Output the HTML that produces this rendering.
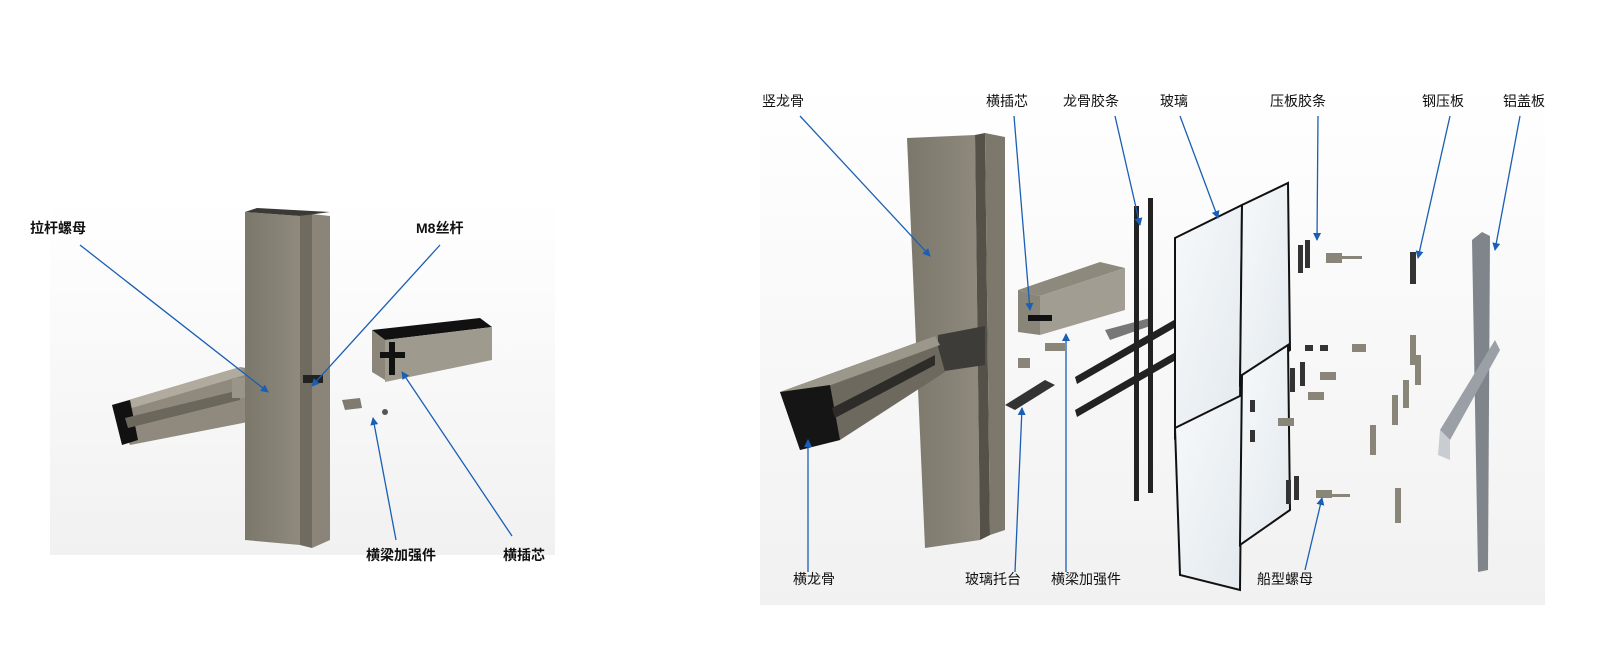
<!DOCTYPE html>
<html><head><meta charset="utf-8"><style>
html,body{margin:0;padding:0;background:#fff;}
svg{display:block}
text{font-family:"Liberation Sans","Noto Sans CJK SC",sans-serif;}
</style></head><body>
<svg width="1600" height="650" viewBox="0 0 1600 650" xmlns="http://www.w3.org/2000/svg">
<defs>
<linearGradient id="bg" x1="0" y1="0" x2="0" y2="1"><stop offset="0" stop-color="#fff"/><stop offset="1" stop-color="#f1f1f1"/></linearGradient>
<linearGradient id="mf" x1="0" y1="0" x2="1" y2="0"><stop offset="0" stop-color="#7b776b"/><stop offset="1" stop-color="#8f8a7d"/></linearGradient>
<linearGradient id="gl" x1="0" y1="0" x2="1" y2="1"><stop offset="0" stop-color="#f6f9fb"/><stop offset="1" stop-color="#e3e9ee"/></linearGradient>
<marker id="ar" markerWidth="8" markerHeight="8" refX="7" refY="4" orient="auto" markerUnits="userSpaceOnUse"><path d="M0,0 L8,4 L0,8 Z" fill="#1a5fb4"/></marker>
</defs>
<rect x="0" y="0" width="1600" height="650" fill="#fff"/>
<rect x="50" y="200" width="505" height="355" fill="url(#bg)"/>
<rect x="760" y="80" width="785" height="525" fill="url(#bg)"/>

<!-- LEFT: horizontal beam -->
<polygon points="112,405 240,367 258,370 258,420 130,445" fill="#8f8a7d"/>
<polygon points="112,405 240,367 245,375 118,412" fill="#b0ab9e"/>
<polygon points="112,405 130,400 138,440 122,445" fill="#111"/>
<polygon points="125,418 240,390 240,400 128,428" fill="#6b675c"/>
<rect x="232" y="378" width="40" height="20" fill="#9a9589"/>
<rect x="255" y="381" width="40" height="6" fill="#c9c5bb"/>
<!-- mullion -->
<polygon points="245,212 300,216 300,545 245,540" fill="url(#mf)"/>
<polygon points="300,216 312,214 312,548 300,545" fill="#6f6b60"/>
<polygon points="312,214 330,216 330,540 312,548" fill="#8a8578"/>
<polygon points="245,212 257,208 330,212 300,216" fill="#3b3934"/>
<rect x="303" y="375" width="20" height="8" fill="#222"/>
<!-- right block -->
<polygon points="372,330 480,318 492,327 385,340" fill="#111"/>
<polygon points="372,330 385,340 385,380 372,372" fill="#8b8679"/>
<polygon points="385,340 492,327 492,360 385,382" fill="#9f9a8e"/>
<path d="M380,355 L405,355 M392,342 L392,375" stroke="#111" stroke-width="6"/>
<polygon points="342,400 360,398 362,408 345,410" fill="#7f7b70"/>
<circle cx="385" cy="412" r="3" fill="#555"/>
<!-- left labels -->
<g font-size="14" font-weight="bold" fill="#111">
<text x="30" y="233">拉杆螺母</text>
<text x="416" y="233">M8丝杆</text>
<text x="366" y="560">横梁加强件</text>
<text x="503" y="560">横插芯</text>
</g>
<g stroke="#1a5fb4" stroke-width="1.3" marker-end="url(#ar)" fill="none">
<line x1="80" y1="245" x2="268" y2="392"/>
<line x1="440" y1="245" x2="312" y2="386"/>
<line x1="396" y1="540" x2="373" y2="418"/>
<line x1="512" y1="536" x2="402" y2="372"/>
</g>

<!-- RIGHT: mullion -->
<polygon points="907,138 975,135 980,540 925,548" fill="url(#mf)"/>
<polygon points="975,135 985,133 990,535 980,540" fill="#555148"/>
<polygon points="985,133 1005,137 1005,530 990,535" fill="#7d786c"/>
<!-- plate -->
<polygon points="938,335 985,326 985,365 938,372" fill="#3e3c38"/>
<!-- beam -->
<polygon points="780,392 935,336 945,372 840,440 800,450" fill="#6d695f"/>
<polygon points="780,392 935,336 940,345 790,400" fill="#9c978b"/>
<polygon points="780,392 830,385 840,440 800,450" fill="#151515"/>
<polygon points="832,408 935,355 935,365 835,418" fill="#2d2c29"/>
<!-- insert core -->
<polygon points="1018,290 1100,262 1125,268 1040,296" fill="#8e897d"/>
<polygon points="1018,290 1040,296 1040,335 1018,332" fill="#8a8579"/>
<polygon points="1040,296 1125,268 1125,310 1040,335" fill="#a29d92"/>
<path d="M1028,318 L1052,318" stroke="#111" stroke-width="6"/>
<rect x="1045" y="343" width="20" height="8" fill="#8a8579"/>
<rect x="1018" y="358" width="12" height="10" fill="#8a8579"/>
<polygon points="1005,405 1045,380 1055,385 1015,410" fill="#333"/>
<polygon points="1105,330 1150,318 1150,326 1110,340" fill="#777"/>
<!-- gaskets -->
<rect x="1134" y="206" width="5" height="295" fill="#222"/>
<rect x="1148" y="198" width="5" height="295" fill="#222"/>
<polygon points="1075,377 1200,305 1202,312 1077,384" fill="#222"/>
<polygon points="1075,410 1200,338 1202,345 1077,417" fill="#222"/>
<!-- glass -->
<polygon points="1175,238 1242,205 1240,405 1175,438" fill="url(#gl)" stroke="#111" stroke-width="2"/>
<polygon points="1242,205 1288,183 1290,350 1240,385" fill="url(#gl)" stroke="#111" stroke-width="2"/>
<polygon points="1175,428 1242,395 1240,590 1180,575" fill="url(#gl)" stroke="#111" stroke-width="2"/>
<polygon points="1242,375 1288,345 1290,510 1240,545" fill="url(#gl)" stroke="#111" stroke-width="2"/>
<!-- small parts -->
<g fill="#333">
<rect x="1298" y="245" width="5" height="28"/><rect x="1305" y="240" width="5" height="28"/>
<rect x="1410" y="252" width="6" height="32"/>
<rect x="1290" y="368" width="5" height="24"/><rect x="1300" y="362" width="5" height="24"/>
<rect x="1286" y="480" width="5" height="24"/><rect x="1294" y="476" width="5" height="24"/>
<rect x="1305" y="345" width="8" height="6"/><rect x="1320" y="345" width="8" height="6"/>
<rect x="1250" y="400" width="5" height="12"/><rect x="1250" y="430" width="5" height="12"/>
</g>
<g fill="#8a8579">
<rect x="1326" y="253" width="16" height="10"/><rect x="1340" y="256" width="22" height="3"/>
<rect x="1352" y="344" width="14" height="8"/><rect x="1320" y="372" width="16" height="8"/>
<rect x="1308" y="392" width="16" height="8"/><rect x="1278" y="418" width="16" height="8"/>
<rect x="1316" y="490" width="16" height="8"/><rect x="1330" y="494" width="20" height="3"/>
<rect x="1410" y="335" width="6" height="30"/><rect x="1403" y="380" width="6" height="28"/>
<rect x="1392" y="395" width="6" height="30"/><rect x="1370" y="425" width="6" height="30"/>
<rect x="1395" y="488" width="6" height="35"/><rect x="1415" y="355" width="6" height="30"/>
</g>
<!-- cover plate -->
<polygon points="1472,240 1482,232 1490,236 1488,570 1478,572" fill="#7f858b"/>
<polygon points="1440,430 1495,340 1500,350 1450,440" fill="#9aa0a6"/>
<polygon points="1440,430 1450,440 1450,460 1438,455" fill="#c9cdd1"/>
<!-- right labels -->
<g font-size="14" fill="#111">
<text x="762" y="106">竖龙骨</text>
<text x="986" y="106">横插芯</text>
<text x="1063" y="106">龙骨胶条</text>
<text x="1160" y="106">玻璃</text>
<text x="1270" y="106">压板胶条</text>
<text x="1422" y="106">钢压板</text>
<text x="1503" y="106">铝盖板</text>
<text x="793" y="584">横龙骨</text>
<text x="965" y="584">玻璃托台</text>
<text x="1051" y="584">横梁加强件</text>
<text x="1257" y="584">船型螺母</text>
</g>
<g stroke="#1a5fb4" stroke-width="1.3" marker-end="url(#ar)" fill="none">
<line x1="800" y1="116" x2="930" y2="256"/>
<line x1="1014" y1="116" x2="1030" y2="310"/>
<line x1="1115" y1="116" x2="1140" y2="225"/>
<line x1="1180" y1="116" x2="1218" y2="218"/>
<line x1="1318" y1="116" x2="1317" y2="240"/>
<line x1="1450" y1="116" x2="1418" y2="258"/>
<line x1="1520" y1="116" x2="1495" y2="250"/>
<line x1="808" y1="572" x2="808" y2="440"/>
<line x1="1015" y1="572" x2="1022" y2="408"/>
<line x1="1066" y1="572" x2="1066" y2="334"/>
<line x1="1305" y1="570" x2="1322" y2="498"/>
</g>
</svg>
</body></html>
